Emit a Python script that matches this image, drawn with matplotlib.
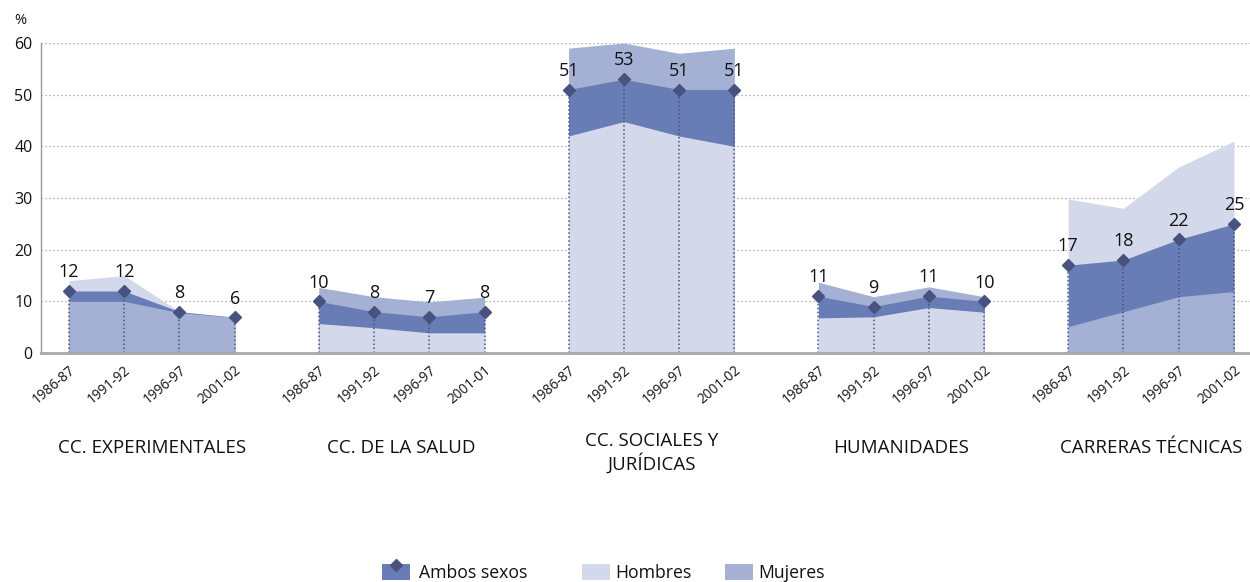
import matplotlib
matplotlib.use("Agg")
import matplotlib.pyplot as plt
from matplotlib.patches import Rectangle
from matplotlib.lines import Line2D
from matplotlib.transforms import blended_transform_factory
import numpy as np

plt.rcParams['font.family'] = ['Open Sans', 'DejaVu Sans']

groups = ["CC. EXPERIMENTALES", "CC. DE LA SALUD", "CC. SOCIALES Y\nJURÍDICAS",
          "HUMANIDADES", "CARRERAS TÉCNICAS"]
periods = [["1986-87", "1991-92", "1996-97", "2001-02"],
           ["1986-87", "1991-92", "1996-97", "2001-01"],
           ["1986-87", "1991-92", "1996-97", "2001-02"],
           ["1986-87", "1991-92", "1996-97", "2001-02"],
           ["1986-87", "1991-92", "1996-97", "2001-02"]]
ambos = [[12, 12, 8, 6.9], [10, 8, 7, 8], [51, 53, 51, 51], [11, 9, 11, 10], [17, 18, 22, 25]]
ambos_labels = [["12", "12", "8", "6"], ["10", "8", "7", "8"], ["51", "53", "51", "51"],
                ["11", "9", "11", "10"], ["17", "18", "22", "25"]]
hombres = [[14, 15, 8, 7], [5.7, 4.9, 3.9, 3.9], [42, 44.8, 42, 40], [6.8, 7, 8.8, 7.9], [29.8, 28, 36, 41]]
mujeres = [[10, 10, 7.8, 6.9], [12.7, 10.9, 9.9, 10.8], [59, 60, 58, 59], [13.7, 10.9, 12.8, 10.9], [5.1, 8, 10.9, 11.9]]

c_ambos = "#687db6"
c_hombres = "#d3d8ea"
c_mujeres = "#a5b1d4"
c_marker = "#48527f"

group_step = 4.52
fig = plt.figure(figsize=(12.5, 5.82), dpi=100)
ax = fig.add_axes([41 / 1250, 229 / 582, 1 - 41 / 1250, 310 / 582])

ax.set_ylim(0, 60)
ax.set_xlim(-0.506, 4 * group_step + 3 + 0.29)

for yv in range(10, 61, 10):
    ax.axhline(yv, color="#9a9a9a", lw=0.9, ls=(0, (1, 2.2)), zorder=0)

trans = blended_transform_factory(ax.transData, ax.transAxes)
xticks, xlabels = [], []
for g in range(len(groups)):
    xs = g * group_step + np.arange(4)
    series = [("h", hombres[g], c_hombres), ("a", ambos[g], c_ambos), ("m", mujeres[g], c_mujeres)]
    series.sort(key=lambda s: -np.mean(s[1]))
    for k, (name, vals, col) in enumerate(series):
        ax.fill_between(xs, 0, vals, color=col, lw=0, zorder=2 + k)
    for x, v in zip(xs, ambos[g]):
        ax.plot([x, x], [0, v], color=c_marker, lw=1.1, ls=(0, (1, 1.6)), zorder=6)
    ax.plot(xs, ambos[g], ls="none", marker="D", ms=6, color=c_marker, zorder=7)
    for x, v, lab in zip(xs, ambos[g], ambos_labels[g]):
        ax.annotate(lab, (x, v), xytext=(0, 13.5), textcoords="offset points",
                    ha="center", va="center", fontsize=13, color="#111111", zorder=8)
    xticks.extend(xs)
    xlabels.extend(periods[g])
    nlines = groups[g].count("\n") + 1
    yc = 448 + 5 * (nlines - 1)
    ax.text(xs.mean(), (353 - yc) / 310, groups[g], transform=trans, ha="center", va="center",
            fontsize=13.5, color="#111111", linespacing=1.15, multialignment="center")

ax.set_xticks(xticks)
ax.set_xticklabels(xlabels, rotation=40, ha="right", rotation_mode="anchor", fontsize=9.8, color="#111111")
ax.set_yticks(range(0, 61, 10))
ax.set_yticklabels([str(v) for v in range(0, 61, 10)], fontsize=11.5, color="#111111")
ax.tick_params(axis="both", length=0)
ax.tick_params(axis="x", pad=7)
ax.tick_params(axis="y", pad=6)

for s in ["top", "right"]:
    ax.spines[s].set_visible(False)
ax.spines["left"].set_color("#9a9a9a")
ax.spines["left"].set_linewidth(1.0)
ax.spines["bottom"].set_color("#a8a8a8")
ax.spines["bottom"].set_linewidth(2.0)
ax.spines["left"].set_zorder(9)
ax.spines["bottom"].set_zorder(9)

fig.text(14 / 1250, 1 - 20 / 582, "%", fontsize=10.5, color="#111111", va="center", ha="left")

# legend (manual, figure coords)
def fx(px):
    return px / 1250
def fy(py):
    return 1 - py / 582

legend_items = [("Ambos sexos", c_ambos, 382, 419), ("Hombres", c_hombres, 582, 615), ("Mujeres", c_mujeres, 725, 758)]
for lab, col, px, tx in legend_items:
    fig.add_artist(Rectangle((fx(px), fy(580)), fx(28), 16 / 582, transform=fig.transFigure,
                             facecolor=col, edgecolor="none"))
    fig.text(fx(tx), fy(572.5), lab, fontsize=12.7, color="#111111", va="center", ha="left")
fig.add_artist(Line2D([fx(396)], [fy(565)], marker="D", ms=6.5, color=c_marker, ls="none",
                      transform=fig.transFigure))

fig.savefig("out.png", dpi=100)
